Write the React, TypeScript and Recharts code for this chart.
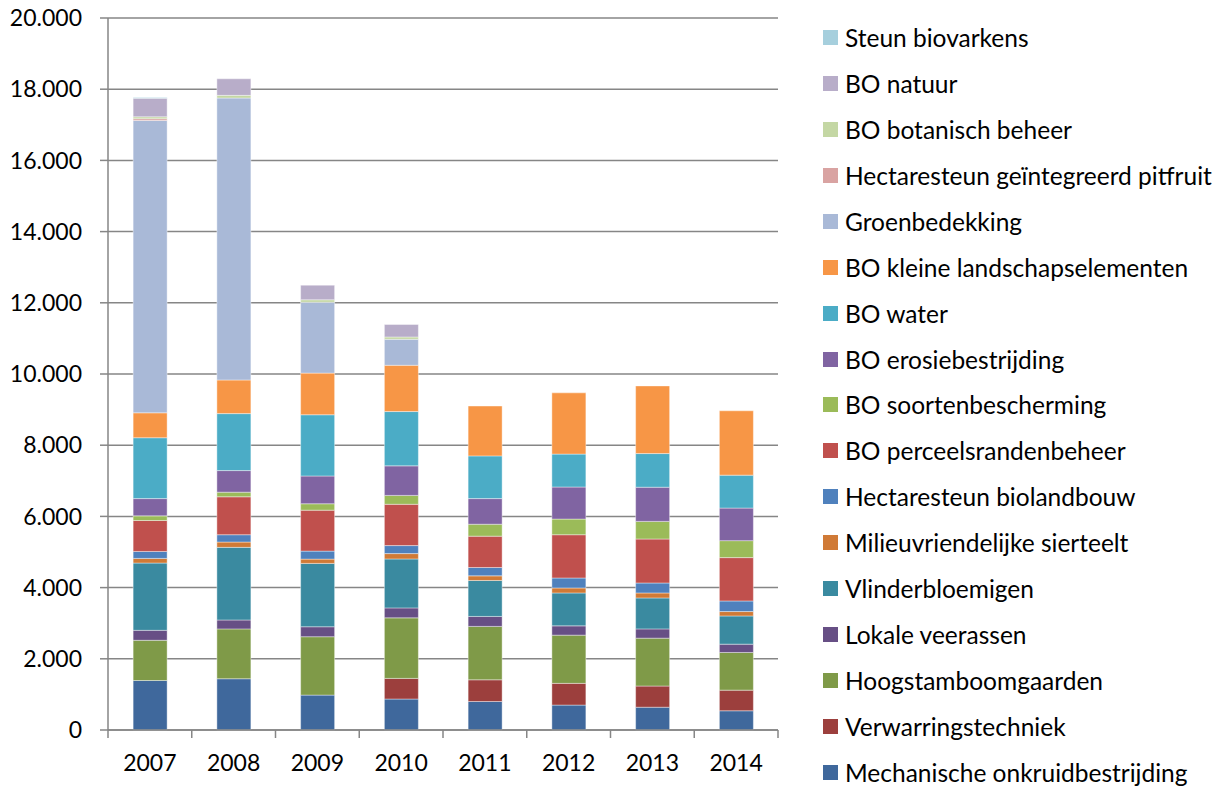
import React from 'react';
import { BarChart, Bar, XAxis, YAxis, CartesianGrid } from 'recharts';

const categories = ['2007', '2008', '2009', '2010', '2011', '2012', '2013', '2014'];

const mechanischeOnkruidbestrijding = [1390, 1440, 980, 870, 800, 700, 640, 540];
const verwarringstechniek = [0, 0, 0, 580, 610, 610, 595, 580];
const hoogstamboomgaarden = [1130, 1400, 1640, 1700, 1500, 1355, 1345, 1058];
const lokaleVeerassen = [280, 250, 280, 280, 280, 260, 260, 233];
const vlinderbloemigen = [1890, 2040, 1780, 1375, 1010, 925, 870, 793];
const milieuvriendelijkeSierteelt = [130, 150, 120, 150, 130, 140, 140, 123];
const hectaresteunBiolandbouw = [195, 205, 225, 225, 235, 280, 280, 298];
const boPerceelsrandenbeheer = [870, 1066, 1150, 1160, 880, 1215, 1235, 1217];
const boSoortenbescherming = [130, 130, 180, 250, 335, 440, 495, 477];
const boErosiebestrijding = [485, 606, 780, 830, 720, 900, 960, 915];
const boWater = [1710, 1600, 1720, 1525, 1200, 925, 945, 925];
const boKleineLandschapselementen = [700, 945, 1170, 1300, 1400, 1720, 1900, 1807];
const groenbedekking = [8210, 7920, 1990, 730, 0, 0, 0, 0];
const hectaresteunPitfruit = [50, 0, 0, 0, 0, 0, 0, 0];
const boBotanischBeheer = [55, 75, 70, 65, 0, 0, 0, 0];
const boNatuur = [520, 465, 410, 350, 0, 0, 0, 0];
const steunBiovarkens = [25, 0, 0, 0, 0, 0, 0, 0];

const yTicks = [0, 2000, 4000, 6000, 8000, 10000, 12000, 14000, 16000, 18000, 20000];

const series = [
  { key: 's1', name: 'Mechanische onkruidbestrijding', values: mechanischeOnkruidbestrijding, color: '#3F689C' },
  { key: 's2', name: 'Verwarringstechniek', values: verwarringstechniek, color: '#9C3F3D' },
  { key: 's3', name: 'Hoogstamboomgaarden', values: hoogstamboomgaarden, color: '#7F9A48' },
  { key: 's4', name: 'Lokale veerassen', values: lokaleVeerassen, color: '#674F85' },
  { key: 's5', name: 'Vlinderbloemigen', values: vlinderbloemigen, color: '#3A8AA0' },
  { key: 's6', name: 'Milieuvriendelijke sierteelt', values: milieuvriendelijkeSierteelt, color: '#D07A36' },
  { key: 's7', name: 'Hectaresteun biolandbouw', values: hectaresteunBiolandbouw, color: '#4F81BD' },
  { key: 's8', name: 'BO perceelsrandenbeheer', values: boPerceelsrandenbeheer, color: '#C0504D' },
  { key: 's9', name: 'BO soortenbescherming', values: boSoortenbescherming, color: '#9BBB59' },
  { key: 's10', name: 'BO erosiebestrijding', values: boErosiebestrijding, color: '#8064A2' },
  { key: 's11', name: 'BO water', values: boWater, color: '#4BACC6' },
  { key: 's12', name: 'BO kleine landschapselementen', values: boKleineLandschapselementen, color: '#F79646' },
  { key: 's13', name: 'Groenbedekking', values: groenbedekking, color: '#A9B9D7' },
  { key: 's14', name: 'Hectaresteun geïntegreerd pitfruit', values: hectaresteunPitfruit, color: '#D9A3A2' },
  { key: 's15', name: 'BO botanisch beheer', values: boBotanischBeheer, color: '#C4D7A4' },
  { key: 's16', name: 'BO natuur', values: boNatuur, color: '#B8ADC9' },
  { key: 's17', name: 'Steun biovarkens', values: steunBiovarkens, color: '#A6CFDD' },
];

const data = categories.map((year, i) => {
  const row: Record<string, any> = { year };
  series.forEach((s) => {
    row[s.key] = s.values[i];
  });
  return row;
});

const FONT = 'Lato, "Open Sans", sans-serif';
const AXIS_COLOR = '#868686';
const W = 1228;
const H = 787;
const M = { top: 18, right: 450, left: 0, bottom: 0 };
const Y_AXIS_W = 108;
const X_AXIS_H = 57;
const PLOT_W = W - M.left - M.right - Y_AXIS_W;

const fmt = (v: number) => String(v).replace(/\B(?=(\d{3})+(?!\d))/g, '.');

const YearTick = (props: any) => {
  const { x, y, payload, index } = props;
  const half = PLOT_W / categories.length / 2;
  const last = index === categories.length - 1;
  return (
    <g>
      <line x1={x - half} x2={x - half} y1={y} y2={y + 8} stroke={AXIS_COLOR} strokeWidth={1.5} />
      {last && <line x1={x + half} x2={x + half} y1={y} y2={y + 8} stroke={AXIS_COLOR} strokeWidth={1.5} />}
      <text x={x} y={y + 41} textAnchor="middle" fontSize={23} fontFamily={FONT} fill="#000">
        {payload.value}
      </text>
    </g>
  );
};

export default function App() {
  const legendItems = [...series].reverse();
  return (
    <div style={{ position: 'fixed', left: 0, top: 0, width: W, height: H, background: '#fff', overflow: 'hidden' }}>
      <BarChart width={W} height={H} data={data} margin={M} barCategoryGap="30%">
        <CartesianGrid vertical={false} stroke={AXIS_COLOR} strokeWidth={1.5} />
        <XAxis
          dataKey="year"
          height={X_AXIS_H}
          axisLine={{ stroke: AXIS_COLOR, strokeWidth: 1.5 }}
          tickLine={false}
          tickSize={0}
          tickMargin={0}
          tick={<YearTick />}
          interval={0}
        />
        <YAxis
          width={Y_AXIS_W}
          domain={[0, 20000]}
          ticks={yTicks}
          interval={0}
          tickFormatter={fmt}
          axisLine={{ stroke: AXIS_COLOR, strokeWidth: 1.5 }}
          tickLine={{ stroke: AXIS_COLOR, strokeWidth: 1.5 }}
          tickSize={8}
          tickMargin={18}
          tick={{ fill: '#000', fontSize: 23, fontFamily: FONT }}
        />
        {series.map((s) => (
          <Bar
            key={s.key}
            dataKey={s.key}
            name={s.name}
            stackId="a"
            fill={s.color}
            stroke="#ffffff"
            strokeOpacity={0.5}
            strokeWidth={0.8}
            isAnimationActive={false}
          />
        ))}
      </BarChart>
      <div style={{ position: 'absolute', left: 823, top: 14.5, fontFamily: FONT, fontSize: 24.5, color: '#000' }}>
        {legendItems.map((s) => (
          <div key={s.key} style={{ display: 'flex', alignItems: 'center', height: 45.95, whiteSpace: 'nowrap' }}>
            <span style={{ display: 'inline-block', width: 15, height: 15, background: s.color, marginRight: 7, flexShrink: 0 }} />
            <span>{s.name}</span>
          </div>
        ))}
      </div>
    </div>
  );
}
